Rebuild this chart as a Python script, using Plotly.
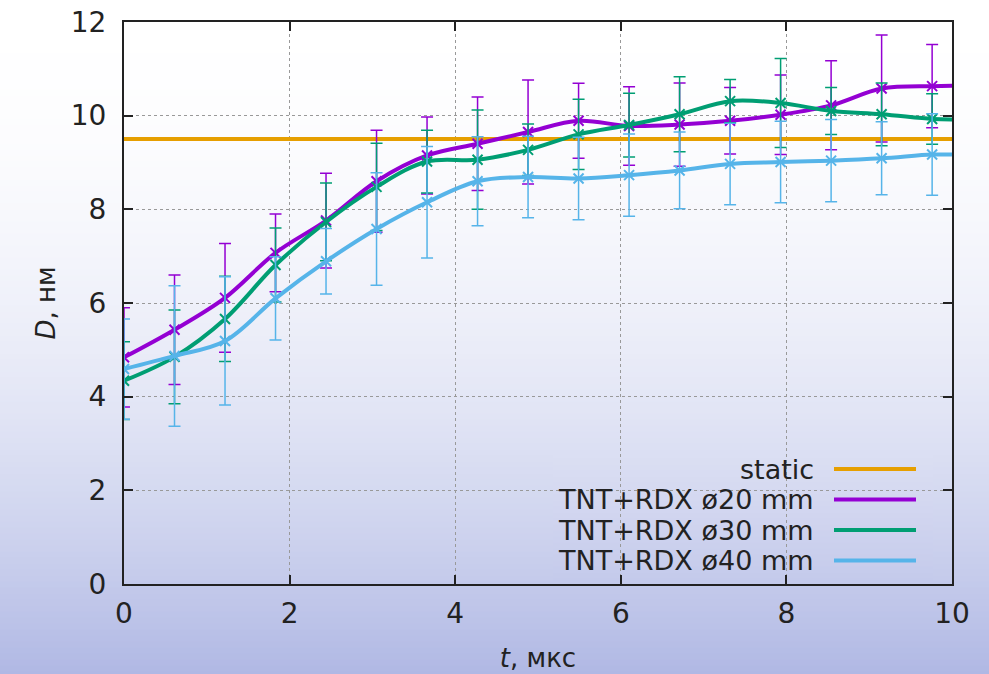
import plotly.graph_objects as go

# ---------------- data ----------------
t = [0.0, 0.61, 1.22, 1.83, 2.44, 3.05, 3.66, 4.27, 4.88, 5.49,
     6.10, 6.71, 7.32, 7.93, 8.54, 9.15, 9.76]

d20 = [4.84, 5.43, 6.11, 7.07, 7.76, 8.60, 9.15, 9.40, 9.65, 9.89,
       9.78, 9.81, 9.89, 10.02, 10.22, 10.58, 10.63]
e20 = [1.06, 1.17, 1.16, 0.83, 1.01, 1.09, 0.82, 1.00, 1.11, 0.80,
       0.84, 0.89, 0.71, 0.85, 0.95, 1.14, 0.89]

d30 = [4.34, 4.85, 5.66, 6.81, 7.73, 8.48, 9.02, 9.06, 9.27, 9.60,
       9.80, 10.03, 10.31, 10.27, 10.10, 10.03, 9.93]
e30 = [0.83, 1.00, 0.91, 0.79, 0.83, 0.93, 0.67, 1.06, 0.55, 0.75,
       0.68, 0.80, 0.46, 0.95, 0.50, 0.67, 0.54]

d40 = [4.59, 4.87, 5.19, 6.10, 6.89, 7.58, 8.15, 8.60, 8.69, 8.66,
       8.73, 8.83, 8.97, 9.01, 9.04, 9.09, 9.17]
e40 = [1.07, 1.50, 1.37, 0.89, 0.70, 1.20, 1.19, 0.95, 0.87, 0.88,
       0.88, 0.82, 0.87, 0.87, 0.88, 0.78, 0.87]

# smoothed curves continue to the right edge (t = 10)
t_end = 10.0
d20_end = 10.64
d30_end = 9.92
d40_end = 9.17

static_t = [0.0, 10.0]
static_d = [9.5, 9.5]

names = ["static", "TNT+RDX ø20 mm", "TNT+RDX ø30 mm", "TNT+RDX ø40 mm"]
colors = ["#E69F00", "#9400D3", "#009E73", "#56B4E9"]

x_ticks = [0, 2, 4, 6, 8, 10]
y_ticks = [0, 2, 4, 6, 8, 10, 12]

# ---------------- figure ----------------
W, H = 989, 674
L, R, T, B = 124, 37, 22, 90
PW, PH = W - L - R, H - T - B
FONT = "DejaVu Sans"

fig = go.Figure()

fig.add_trace(go.Scatter(x=static_t, y=static_d, mode="lines",
                         line=dict(color=colors[0], width=4),
                         showlegend=False, hoverinfo="skip"))

series = [(d20, e20, d20_end, colors[1]),
          (d30, e30, d30_end, colors[2]),
          (d40, e40, d40_end, colors[3])]

for d, e, dend, c in series:
    fig.add_trace(go.Scatter(
        x=t, y=d, mode="markers",
        marker=dict(symbol="x-thin", size=10, line=dict(color=c, width=2), color=c),
        error_y=dict(type="data", array=e, visible=True, color=c,
                     thickness=1.5, width=6),
        showlegend=False))
    fig.add_trace(go.Scatter(
        x=t + [t_end], y=d + [dend], mode="lines",
        line=dict(color=c, width=4, shape="spline", smoothing=1.0),
        showlegend=False))

# ---------------- background gradient ----------------
def py_to_paper(py):
    return (T + PH - py) / PH

def px_to_paper(px):
    return (px - L) / PW

top_c = (255, 255, 255)
bot_c = (176, 184, 228)
step = 6
shapes = []
def grad_color(py):
    s = (py / H) ** 2
    r = round(top_c[0] + (bot_c[0] - top_c[0]) * s)
    g = round(top_c[1] + (bot_c[1] - top_c[1]) * s)
    b = round(top_c[2] + (bot_c[2] - top_c[2]) * s)
    return f"rgb({r},{g},{b})"

for py in range(0, H, step):
    shapes.append(dict(type="rect", xref="paper", yref="paper",
                       x0=px_to_paper(-2), x1=px_to_paper(W + 2),
                       y0=py_to_paper(py + step + 0.5), y1=py_to_paper(py - 0.5),
                       fillcolor=grad_color(py + step / 2), line=dict(width=0),
                       layer="below"))

# legend box (opaque, hides grid lines)
box_x0, box_x1, box_y0, box_y1 = 553, 933, 453, 583
for py in range(box_y0, box_y1, step):
    shapes.append(dict(type="rect", xref="paper", yref="paper",
                       x0=px_to_paper(box_x0), x1=px_to_paper(box_x1),
                       y0=py_to_paper(min(py + step + 0.5, box_y1)), y1=py_to_paper(py - 0.5),
                       fillcolor=grad_color(py + step / 2), line=dict(width=0),
                       layer="between"))

# legend samples + text
annotations = []
row_y = [469, 499.5, 530, 560.5]
for name, c, ry in zip(names, colors, row_y):
    shapes.append(dict(type="line", xref="paper", yref="paper",
                       x0=px_to_paper(834), x1=px_to_paper(916),
                       y0=py_to_paper(ry), y1=py_to_paper(ry),
                       line=dict(color=c, width=4), layer="above"))
    annotations.append(dict(xref="paper", yref="paper",
                            x=px_to_paper(816), y=py_to_paper(ry),
                            xanchor="right", yanchor="middle",
                            text=name, showarrow=False,
                            font=dict(family=FONT, size=27, color="#222222")))

axis_common = dict(
    showline=True, linecolor="#222222", linewidth=2, mirror="ticks",
    ticks="inside", ticklen=9, tickwidth=2, tickcolor="#222222",
    showgrid=True, gridcolor="#999999", gridwidth=1, griddash="dot",
    zeroline=False,
    tickfont=dict(family=FONT, size=28, color="#222222"),
)

fig.update_layout(
    width=W, height=H,
    margin=dict(l=L, r=R, t=T, b=B, autoexpand=False),
    paper_bgcolor="white",
    plot_bgcolor="rgba(0,0,0,0)",
    showlegend=False,
    shapes=shapes,
    annotations=annotations,
    xaxis=dict(range=[0, 10], tickvals=x_ticks, ticklabelstandoff=3,
               title=dict(text="<i>t</i>, мкс", standoff=20,
                          font=dict(family=FONT, size=26, color="#222222")),
               **axis_common),
    yaxis=dict(range=[0, 12], tickvals=y_ticks, ticklabelstandoff=10,
               title=dict(text="<i>D</i>, нм", standoff=8,
                          font=dict(family=FONT, size=26, color="#222222")),
               **axis_common),
)

fig.write_html("out.html",
               config={"displayModeBar": False},
               post_script="document.body.style.margin='0';document.body.style.overflow='hidden';")
